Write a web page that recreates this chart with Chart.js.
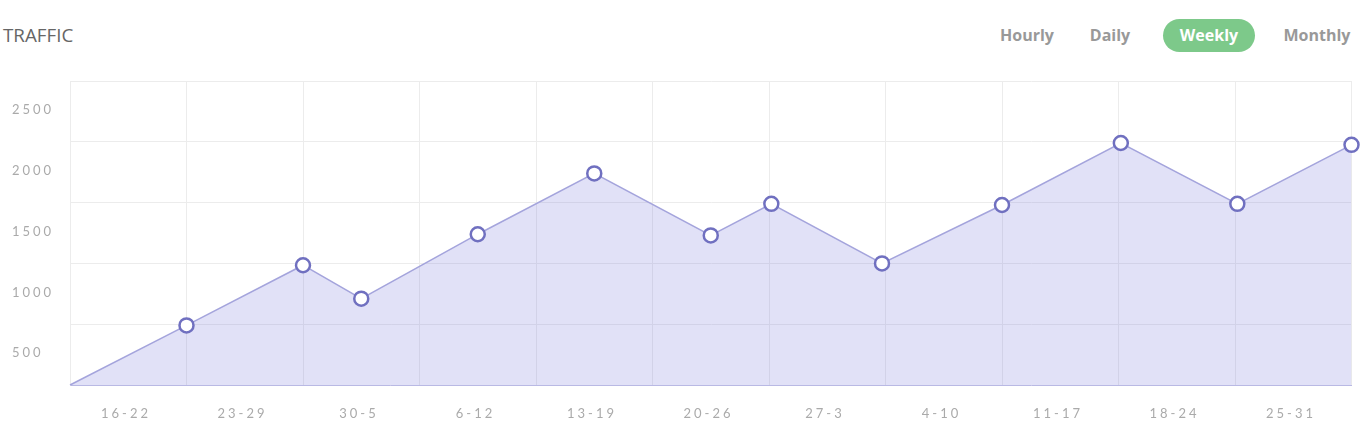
<!DOCTYPE html>
<html>
<head>
<meta charset="utf-8">
<title>Traffic</title>
<script src="https://cdn.jsdelivr.net/npm/chart.js@4.4.1/dist/chart.umd.min.js"></script>
<style>
    body { margin: 0; width: 1361px; height: 442px; background: #fff; position: relative; overflow: hidden; font-family: 'Open Sans', sans-serif; }
    .title { position: absolute; left: 3px; top: 23px; font-size: 18.8px; line-height: 24px; color: #666; }
    .btn { position: absolute; top: 19px; width: 90px; height: 33px; line-height: 33px; font-size: 16px; font-weight: 700; color: #999; text-align: center; }
    .btn.active { background: #7dc98a; color: #fff; border-radius: 17px; width: 92px; }
    #wrap { position: absolute; left: 0; top: 70px; width: 1361px; height: 372px; }
</style>
</head>
<body>
<div class="title">TRAFFIC</div>
<div class="btn" style="left:982px">Hourly</div>
<div class="btn" style="left:1065px">Daily</div>
<div class="btn active" style="left:1163px">Weekly</div>
<div class="btn" style="left:1272px">Monthly</div>
<div id="wrap"><canvas id="trafficChart"></canvas></div>
<script>
// Chart data
const weeks = ['16-22', '23-29', '30-5', '6-12', '13-19', '20-26', '27-3', '4-10', '11-17', '18-24', '25-31'];
const pointPos = [0, 1, 2, 2.5, 3.5, 4.5, 5.5, 6.02, 6.97, 8, 9.02, 10.02, 11];
const traffic = [0, 490, 985, 710, 1240, 1740, 1230, 1490, 1000, 1480, 1990, 1490, 1975];
const yMax = 2500;
const yStep = 500;

const points = pointPos.map((x, i) => ({ x: x, y: traffic[i] }));

// letter spaced tick labels
const spacing = {
    id: 'spacing',
    beforeDraw(chart) { chart.ctx.letterSpacing = '3px'; },
    afterDraw(chart) { chart.ctx.letterSpacing = '0px'; }
};

const tickFont = { family: 'Lato', size: 13 };

new Chart(document.getElementById('trafficChart'), {
    type: 'line',
    data: {
        datasets: [{
            label: 'Traffic',
            data: points,
            fill: 'origin',
            backgroundColor: 'rgba(120, 120, 220, 0.22)',
            borderColor: '#a4a4dc',
            borderWidth: 1.5,
            tension: 0,
            pointRadius: ctx => ctx.dataIndex === 0 ? 0 : 7,
            pointBorderWidth: 2.5,
            pointBorderColor: '#7070c0',
            pointBackgroundColor: '#fff',
            clip: false
        }]
    },
    options: {
        responsive: true,
        maintainAspectRatio: false,
        animation: false,
        layout: { padding: { top: 11, left: 12, right: 9, bottom: 0 } },
        plugins: {
            legend: { display: false },
            tooltip: { enabled: false }
        },
        scales: {
            x: {
                type: 'linear',
                min: 0,
                max: weeks.length,
                afterFit(scale) {
                    scale.height = 57;
                    scale.paddingLeft = 0;
                    scale.paddingRight = 0;
                },
                grid: { color: '#ececec', drawTicks: false },
                border: { color: '#b9b9e4', width: 1 },
                ticks: {
                    stepSize: 1,
                    autoSkip: false,
                    maxRotation: 0,
                    labelOffset: 56,
                    padding: 21,
                    color: '#aaa',
                    font: tickFont,
                    callback: v => weeks[v] !== undefined ? weeks[v] : ''
                }
            },
            y: {
                min: 0,
                max: yMax,
                afterFit(scale) { scale.width = 58; },
                grid: { color: '#ececec', drawTicks: false },
                border: { color: '#ececec' },
                ticks: {
                    stepSize: yStep,
                    crossAlign: 'far',
                    labelOffset: 29,
                    padding: 0,
                    color: '#aaa',
                    font: tickFont,
                    callback: v => v === 0 ? '' : v
                }
            }
        }
    },
    plugins: [spacing]
});
</script>
</body>
</html>
